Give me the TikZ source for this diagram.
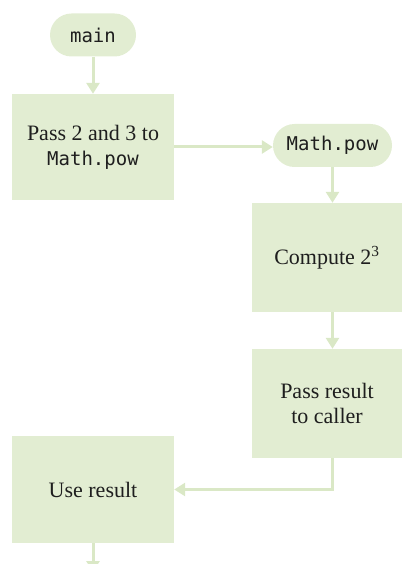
\documentclass[tikz,border=0pt]{standalone}
\usepackage{fontspec}
\setmainfont{Liberation Serif}
\setmonofont{DejaVu Sans Mono}
\usetikzlibrary{arrows.meta}
\definecolor{boxgreen}{HTML}{E2EDD2}
\definecolor{linegreen}{HTML}{DAE8C6}
\definecolor{inkgray}{HTML}{1E1E1E}
\newcommand{\codefont}[1]{{\fontsize{19}{25}\selectfont\texttt{#1}}}
\begin{document}
\begin{tikzpicture}[x=1pt, y=-1pt,
    >={Triangle[width=13pt,length=11pt]},
    every node/.style={font=\fontsize{22}{25}\selectfont, text=inkgray, align=center, inner sep=0pt},
    pill/.style={fill=boxgreen, rounded corners=21.5pt, minimum height=43pt},
    stepbox/.style={fill=boxgreen, minimum width=162pt},
    flow/.style={draw=linegreen, line width=3pt, ->}]
  \useasboundingbox (0,0) rectangle (403,564);

  \node[pill, minimum width=86pt] (main) at (93,35) {\codefont{main}};
  \node[stepbox, minimum height=106pt] (pass) at (93,147) {Pass 2 and 3 to\\\codefont{Math.pow}};
  \node[pill, minimum width=119pt] (pow) at (332.5,145.5) {\codefont{Math.pow}};
  \node[stepbox, minimum width=150pt, minimum height=109pt] (compute) at (327,257.5) {Compute 2\textsuperscript{3}};
  \node[stepbox, minimum width=150pt, minimum height=109pt] (result) at (327,403.5) {Pass result\\to caller};
  \node[stepbox, minimum height=107pt] (use) at (93,489.5) {Use result};
  \coordinate (out) at (93,572);

  \draw[flow] (main) -- (pass);
  \draw[flow] (pass.east) -- (pass.east -| pow.west);
  \draw[flow] (pow) -- (pow |- compute.north);
  \draw[flow] (compute.south -| pow) -- (result.north -| pow);
  \draw[flow] (result.south -| pow) |- (use.east);
  \draw[flow] (use) -- (out);
\end{tikzpicture}
\end{document}
